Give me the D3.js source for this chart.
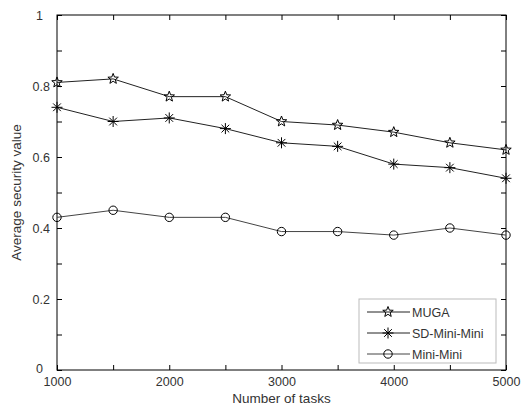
<!DOCTYPE html>
<html>
<head>
<meta charset="utf-8">
<script src="https://cdn.jsdelivr.net/npm/d3@7"></script>
<style>
  body { margin: 0; background: #fff; }
  svg text { font-family: "Liberation Sans", Arial, sans-serif; fill: #333; }
</style>
</head>
<body>
<svg id="canvas" width="525" height="410"></svg>
<script>
let tasks = [1000, 1500, 2000, 2500, 3000, 3500, 4000, 4500, 5000];
let muga = [0.81, 0.82, 0.77, 0.77, 0.70, 0.69, 0.67, 0.64, 0.62];
let sdMiniMini = [0.74, 0.70, 0.71, 0.68, 0.64, 0.63, 0.58, 0.57, 0.54];
let miniMini = [0.43, 0.45, 0.43, 0.43, 0.39, 0.39, 0.38, 0.40, 0.38];
let seriesNames = ["MUGA", "SD-Mini-Mini", "Mini-Mini"];
let xTicks = [1000, 1500, 2000, 2500, 3000, 3500, 4000, 4500, 5000];
let yTicks = [0, 0.1, 0.2, 0.3, 0.4, 0.5, 0.6, 0.7, 0.8, 0.9, 1];

let plotLeft = 57, plotRight = 506, plotTop = 15, plotBottom = 370;

let canvas = d3.select("#canvas");

let xScale = d3.scaleLinear().domain([1000, 5000]).range([plotLeft, plotRight]);
let yScale = d3.scaleLinear().domain([0, 1]).range([plotBottom, plotTop]);

// frame
canvas.append("rect")
  .attr("x", plotLeft).attr("y", plotTop)
  .attr("width", plotRight - plotLeft).attr("height", plotBottom - plotTop)
  .attr("fill", "none").attr("stroke", "#000").attr("stroke-width", 1);

let xLabel = (d) => (d % 1000 === 0 ? d : "");
let yLabel = (d) => (Math.round(d * 10) % 2 === 0 ? String(+d.toFixed(1)) : "");

// bottom axis, ticks inward
let xAxis = canvas.append("g")
  .attr("transform", "translate(0," + plotBottom + ")")
  .call(d3.axisBottom(xScale).tickValues(xTicks).tickSize(-5).tickPadding(7).tickFormat(xLabel));
// top mirror ticks
let xAxisTop = canvas.append("g")
  .attr("transform", "translate(0," + plotTop + ")")
  .call(d3.axisTop(xScale).tickValues(xTicks).tickSize(-5).tickFormat(""));
// left axis
let yAxis = canvas.append("g")
  .attr("transform", "translate(" + plotLeft + ",0)")
  .call(d3.axisLeft(yScale).tickValues(yTicks).tickSize(-5).tickPadding(7).tickFormat(yLabel));
// right mirror ticks
let yAxisRight = canvas.append("g")
  .attr("transform", "translate(" + plotRight + ",0)")
  .call(d3.axisRight(yScale).tickValues(yTicks).tickSize(-5).tickFormat(""));

[xAxis, xAxisTop, yAxis, yAxisRight].forEach((g) => {
  g.select(".domain").remove();
  g.selectAll(".tick line").attr("stroke", "#000");
  g.selectAll("text").style("font-size", "12.5px").attr("fill", "#333");
});

// the 0 and 1 labels sit further left, like the original
yAxis.selectAll(".tick text").filter((d) => d === 0 || d === 1).attr("dx", "-7px");
yAxis.selectAll(".tick text").filter((d) => d === 0).attr("dy", "0.2em");

canvas.append("text")
  .attr("x", (plotLeft + plotRight) / 2).attr("y", 403)
  .attr("text-anchor", "middle").style("font-size", "13.5px")
  .text("Number of tasks");

canvas.append("text")
  .attr("transform", "translate(21," + (plotTop + plotBottom) / 2 + ") rotate(-90)")
  .attr("text-anchor", "middle").style("font-size", "13.5px")
  .text("Average security value");

// markers
let starPath = (size) => {
  let pts = [];
  for (let i = 0; i < 10; i++) {
    let r = i % 2 === 0 ? size : size * 0.42;
    let a = -Math.PI / 2 + (i * Math.PI) / 5;
    pts.push([r * Math.cos(a), r * Math.sin(a)]);
  }
  return "M" + pts.map((p) => p[0].toFixed(2) + "," + p[1].toFixed(2)).join("L") + "Z";
};
let asteriskPath = (size) => {
  let s = size, d = size * 0.7;
  return "M0," + -s + "L0," + s + "M" + -s + ",0L" + s + ",0" +
    "M" + -d + "," + -d + "L" + d + "," + d + "M" + -d + "," + d + "L" + d + "," + -d;
};

let drawMarker = (g, type, cx, cy) => {
  if (type === "star") {
    g.append("path").attr("d", starPath(5.5)).attr("transform", "translate(" + cx + "," + cy + ")")
      .attr("fill", "none").attr("stroke", "#000").attr("stroke-width", 1);
  } else if (type === "asterisk") {
    g.append("path").attr("d", asteriskPath(5.5)).attr("transform", "translate(" + cx + "," + cy + ")")
      .attr("fill", "none").attr("stroke", "#000").attr("stroke-width", 1);
  } else {
    g.append("circle").attr("cx", cx).attr("cy", cy).attr("r", 4.2)
      .attr("fill", "none").attr("stroke", "#000").attr("stroke-width", 1);
  }
};

let series = [
  { name: seriesNames[0], values: muga, marker: "star", color: "#222" },
  { name: seriesNames[1], values: sdMiniMini, marker: "asterisk", color: "#222" },
  { name: seriesNames[2], values: miniMini, marker: "circle", color: "#444" }
];

let line = d3.line()
  .x((d, i) => xScale(tasks[i]))
  .y((d) => yScale(d));

series.forEach((s) => {
  let g = canvas.append("g");
  g.append("path").attr("d", line(s.values))
    .attr("fill", "none").attr("stroke", s.color).attr("stroke-width", 1);
  s.values.forEach((v, i) => drawMarker(g, s.marker, xScale(tasks[i]), yScale(v)));
});

// legend
let lx = 359, ly = 299, lw = 137, lh = 64;
let legend = canvas.append("g");
legend.append("rect").attr("x", lx).attr("y", ly).attr("width", lw).attr("height", lh)
  .attr("fill", "#fff").attr("stroke", "#bbb").attr("stroke-width", 1);
series.forEach((s, i) => {
  let yy = ly + 13 + i * 21;
  legend.append("line").attr("x1", lx + 8).attr("x2", lx + 51).attr("y1", yy).attr("y2", yy)
    .attr("stroke", s.color).attr("stroke-width", 1);
  drawMarker(legend, s.marker, lx + 29, yy);
  legend.append("text").attr("x", lx + 53).attr("y", yy + 4.5)
    .style("font-size", "12.5px").text(s.name);
});
</script>
</body>
</html>
